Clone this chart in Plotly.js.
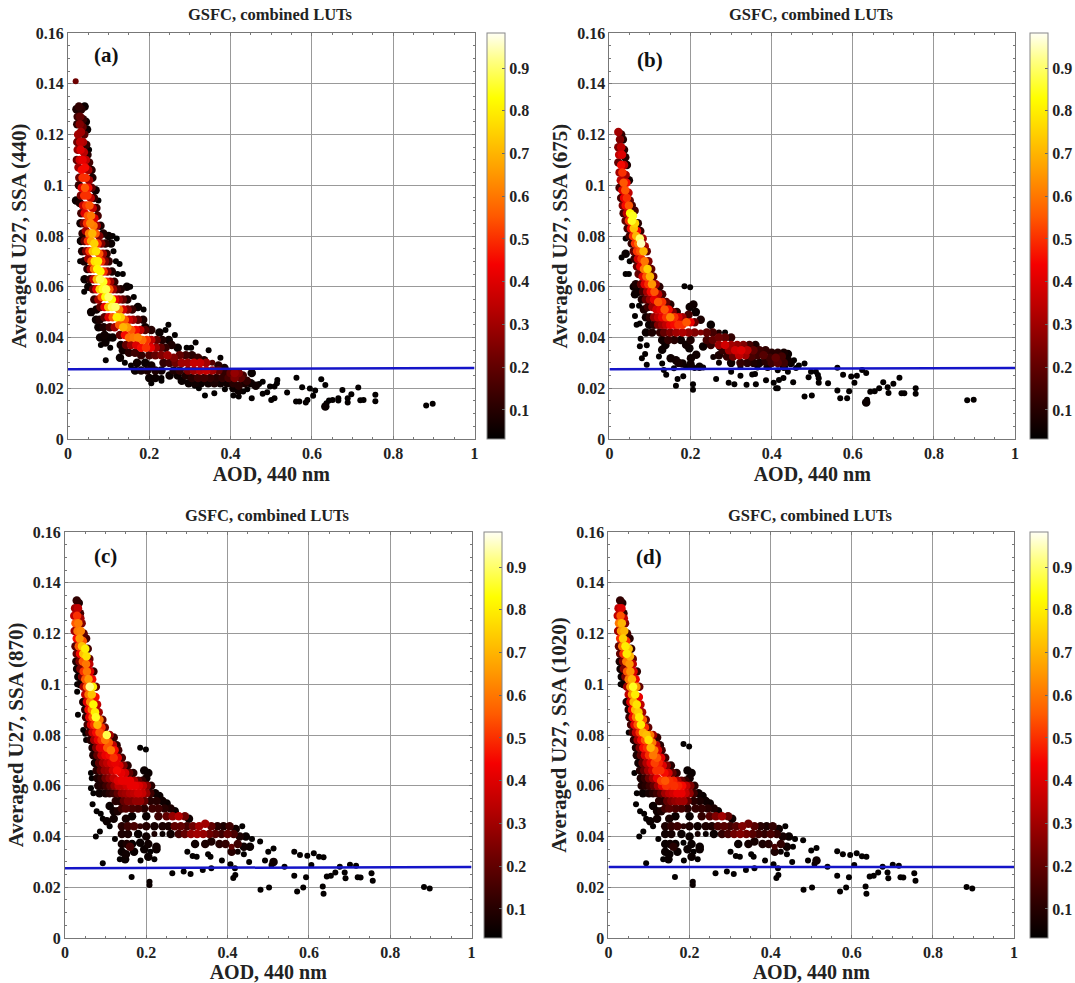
<!DOCTYPE html>
<html><head><meta charset="utf-8">
<script src="https://cdn.plot.ly/plotly-3.0.1.min.js"></script>
<style>html,body{margin:0;padding:0;background:#fff}</style></head>
<body><div id="chart" style="width:1075px;height:983px"></div>
<script>
// rows: AOD 440, averaged U27, density
const pointsA=[[.019,.141,.22],[.021,.13,.08],[.027,.131,.12],[.033,.13,.1],[.041,.131,.05],[.024,.127,.14],[.03,.127,.2],[.037,.126,.12],[.023,.124,.1],[.029,.124,.25],[.036,.123,.2],[.044,.125,.05],[.025,.12,.3],[.032,.121,.3],[.04,.12,.18],[.047,.122,.05],[.023,.117,.22],[.03,.117,.35],[.037,.117,.32],[.045,.116,.12],[.024,.114,.28],[.031,.114,.4],[.039,.113,.34],[.048,.112,.1],[.052,.114,.04],[.022,.11,.2],[.029,.11,.38],[.036,.11,.42],[.044,.11,.35],[.052,.109,.15],[.026,.107,.3],[.034,.106,.45],[.042,.107,.45],[.05,.106,.3],[.058,.106,.1],[.028,.103,.22],[.036,.103,.5],[.044,.103,.5],[.052,.102,.3],[.06,.103,.08],[.027,.1,.12],[.034,.099,.42],[.042,.099,.55],[.05,.099,.45],[.058,.099,.2],[.068,.098,.06],[.032,.096,.25],[.04,.096,.5],[.048,.096,.5],[.056,.095,.35],[.064,.095,.12],[.075,.094,.04],[.02,.094,.05],[.029,.093,.08],[.037,.092,.35],[.045,.092,.5],[.053,.092,.55],[.061,.091,.35],[.07,.091,.14],[.033,.089,.15],[.041,.089,.4],[.049,.088,.55],[.057,.088,.6],[.065,.087,.4],[.073,.088,.15],[.031,.085,.06],[.039,.085,.25],[.047,.085,.5],[.055,.085,.62],[.063,.084,.6],[.071,.084,.3],[.08,.084,.08],[.036,.081,.1],[.044,.082,.3],[.052,.081,.6],[.06,.081,.7],[.068,.081,.55],[.077,.08,.25],[.087,.081,.08],[.1,.08,.05],[.11,.08,.04],[.12,.079,.03],[.032,.078,.05],[.041,.078,.2],[.049,.078,.5],[.057,.078,.68],[.065,.077,.75],[.073,.077,.5],[.082,.077,.25],[.092,.077,.1],[.106,.077,.05],[.035,.074,.08],[.045,.074,.25],[.053,.074,.5],[.061,.074,.72],[.069,.074,.78],[.077,.073,.55],[.086,.073,.3],[.095,.073,.1],[.112,.074,.04],[.03,.07,.04],[.04,.07,.08],[.05,.071,.3],[.058,.07,.55],[.066,.07,.78],[.074,.07,.8],[.082,.07,.5],[.091,.07,.25],[.1,.07,.12],[.118,.07,.04],[.127,.069,.03],[.048,.067,.1],[.056,.067,.3],[.064,.067,.6],[.072,.067,.82],[.08,.066,.82],[.088,.066,.5],[.097,.066,.25],[.108,.066,.08],[.122,.065,.04],[.135,.065,.04],[.055,.063,.12],[.063,.063,.35],[.071,.063,.7],[.079,.063,.88],[.087,.062,.85],[.095,.062,.5],[.104,.062,.3],[.114,.062,.12],[.041,.063,.05],[.04,.058,.04],[.05,.06,.05],[.062,.059,.18],[.07,.059,.4],[.078,.059,.75],[.086,.059,.85],[.094,.059,.88],[.102,.059,.55],[.111,.059,.3],[.12,.059,.15],[.13,.059,.08],[.145,.06,.05],[.153,.06,.04],[.065,.055,.12],[.075,.055,.3],[.083,.056,.55],[.092,.056,.82],[.1,.056,.9],[.108,.055,.82],[.116,.055,.42],[.125,.055,.3],[.135,.055,.2],[.146,.055,.08],[.162,.056,.04],[.057,.05,.05],[.07,.051,.06],[.08,.052,.2],[.09,.052,.42],[.099,.052,.72],[.108,.052,.88],[.117,.052,.9],[.126,.051,.6],[.136,.051,.38],[.147,.051,.25],[.158,.051,.12],[.172,.052,.05],[.186,.051,.04],[.069,.047,.05],[.078,.047,.08],[.09,.048,.18],[.1,.048,.4],[.11,.048,.55],[.12,.048,.8],[.13,.048,.75],[.14,.047,.55],[.15,.047,.38],[.16,.047,.3],[.172,.047,.18],[.185,.047,.08],[.19,.044,.06],[.075,.044,.05],[.088,.044,.08],[.103,.044,.15],[.115,.044,.3],[.126,.045,.55],[.136,.044,.7],[.146,.044,.65],[.156,.043,.55],[.167,.043,.45],[.178,.043,.35],[.19,.043,.18],[.205,.043,.1],[.225,.042,.05],[.079,.04,.05],[.09,.041,.06],[.1,.04,.05],[.11,.04,.05],[.128,.041,.2],[.14,.041,.45],[.15,.04,.58],[.161,.04,.6],[.172,.04,.62],[.183,.039,.58],[.194,.039,.5],[.205,.039,.35],[.218,.039,.2],[.232,.039,.08],[.247,.045,.04],[.24,.043,.04],[.263,.041,.04],[.248,.039,.05],[.081,.037,.04],[.092,.038,.05],[.104,.036,.04],[.13,.037,.06],[.143,.037,.2],[.155,.037,.3],[.168,.037,.4],[.18,.036,.45],[.192,.036,.5],[.204,.036,.42],[.216,.036,.3],[.228,.036,.2],[.24,.036,.12],[.255,.037,.08],[.27,.036,.05],[.292,.036,.04],[.314,.038,.04],[.303,.036,.04],[.346,.035,.04],[.093,.031,.04],[.128,.032,.05],[.135,.035,.06],[.15,.034,.1],[.165,.034,.14],[.18,.033,.12],[.2,.033,.16],[.215,.033,.2],[.23,.033,.25],[.245,.033,.3],[.26,.032,.25],[.275,.033,.2],[.29,.033,.14],[.305,.033,.1],[.32,.032,.12],[.335,.031,.08],[.375,.032,.04],[.14,.03,.04],[.155,.029,.05],[.17,.03,.06],[.19,.03,.05],[.205,.029,.06],[.235,.03,.12],[.25,.03,.14],[.265,.03,.22],[.28,.03,.3],[.295,.03,.3],[.31,.03,.36],[.325,.03,.36],[.34,.03,.3],[.355,.03,.18],[.37,.029,.1],[.385,.028,.07],[.165,.027,.05],[.18,.027,.07],[.195,.027,.08],[.215,.027,.08],[.23,.027,.06],[.26,.027,.08],[.275,.027,.12],[.295,.027,.24],[.31,.027,.3],[.325,.027,.34],[.34,.027,.36],[.355,.027,.3],[.37,.027,.2],[.385,.026,.12],[.4,.026,.2],[.41,.026,.28],[.42,.026,.25],[.43,.025,.15],[.452,.026,.05],[.2,.024,.05],[.215,.024,.05],[.23,.024,.04],[.25,.025,.05],[.27,.025,.05],[.29,.025,.08],[.305,.024,.1],[.32,.024,.14],[.335,.024,.14],[.35,.024,.12],[.365,.024,.1],[.38,.024,.12],[.395,.024,.16],[.41,.024,.25],[.425,.024,.2],[.44,.023,.12],[.205,.022,.04],[.23,.023,.04],[.28,.023,.05],[.297,.022,.05],[.312,.022,.06],[.327,.022,.05],[.345,.022,.06],[.36,.022,.08],[.375,.022,.06],[.392,.022,.06],[.407,.022,.1],[.42,.021,.1],[.435,.022,.08],[.45,.022,.06],[.462,.021,.06],[.322,.02,.04],[.312,.021,.04],[.386,.0196,.04],[.407,.02,.05],[.42,.019,.05],[.36,.018,.04],[.337,.0171,.03],[.407,.0171,.04],[.42,.0167,.04],[.431,.0187,.04],[.441,.0196,.04],[.452,.0161,.04],[.47,.0217,.04],[.479,.0226,.04],[.479,.0178,.04],[.49,.0184,.04],[.497,.0207,.04],[.5,.0154,.04],[.508,.0161,.04],[.508,.0207,.04],[.514,.022,.04],[.515,.0233,.04],[.539,.0183,.04],[.561,.0148,.04],[.562,.0241,.04],[.569,.0148,.04],[.576,.0204,.04],[.585,.0144,.04],[.589,.0154,.04],[.595,.0199,.04],[.603,.017,.04],[.608,.0191,.04],[.623,.0235,.04],[.633,.0213,.04],[.633,.0128,.05],[.636,.0141,.04],[.642,.0152,.04],[.651,.0154,.04],[.665,.0152,.04],[.665,.0161,.04],[.675,.0193,.04],[.688,.0161,.04],[.688,.0144,.04],[.697,.0176,.04],[.714,.0203,.04],[.719,.0153,.04],[.727,.0154,.04],[.756,.0174,.04],[.756,.0149,.04],[.881,.0132,.04],[.897,.0139,.04]];
const pointsB=[[.022,.121,.3],[.029,.12,.12],[.026,.118,.25],[.033,.118,.08],[.022,.115,.25],[.029,.115,.35],[.036,.114,.1],[.024,.112,.35],[.031,.112,.4],[.039,.111,.1],[.022,.109,.2],[.029,.108,.45],[.036,.108,.35],[.043,.108,.08],[.025,.105,.3],[.032,.105,.5],[.04,.104,.3],[.028,.102,.35],[.035,.101,.55],[.042,.101,.45],[.048,.102,.06],[.025,.099,.15],[.032,.098,.4],[.039,.098,.55],[.047,.097,.35],[.029,.095,.15],[.036,.095,.42],[.043,.095,.5],[.05,.094,.2],[.033,.092,.25],[.04,.092,.45],[.048,.092,.55],[.055,.092,.15],[.035,.089,.15],[.043,.089,.35],[.051,.089,.82],[.058,.088,.85],[.062,.09,.15],[.04,.086,.2],[.048,.086,.5],[.055,.086,.85],[.063,.085,.75],[.07,.085,.1],[.045,.083,.15],[.053,.083,.45],[.06,.083,.72],[.068,.082,.45],[.076,.082,.12],[.04,.079,.04],[.05,.08,.15],[.058,.08,.5],[.066,.08,.7],[.075,.079,.9],[.082,.079,.3],[.055,.077,.12],[.063,.077,.5],[.071,.077,.6],[.078,.077,.95],[.087,.076,.3],[.03,.0715,.04],[.04,.073,.05],[.06,.074,.2],[.068,.074,.5],[.076,.074,.55],[.084,.074,.7],[.092,.074,.2],[.05,.07,.04],[.062,.071,.12],[.07,.071,.38],[.079,.071,.5],[.087,.07,.6],[.096,.07,.25],[.068,.068,.2],[.076,.068,.42],[.085,.067,.6],[.094,.067,.75],[.103,.067,.2],[.04,.065,.04],[.048,.065,.04],[.072,.065,.2],[.082,.064,.4],[.091,.064,.55],[.1,.064,.7],[.108,.064,.2],[.06,.06,.05],[.065,.061,.08],[.078,.061,.2],[.087,.061,.4],[.096,.061,.5],[.105,.061,.65],[.114,.061,.3],[.123,.06,.1],[.185,.0602,.04],[.199,.0598,.04],[.063,.057,.05],[.072,.058,.06],[.083,.058,.15],[.093,.058,.3],[.102,.058,.45],[.111,.058,.55],[.12,.057,.35],[.13,.057,.15],[.056,.0525,.04],[.073,.0525,.04],[.08,.055,.08],[.09,.055,.2],[.1,.055,.3],[.11,.055,.42],[.12,.054,.55],[.13,.054,.5],[.14,.054,.2],[.15,.053,.1],[.085,.051,.08],[.095,.052,.14],[.106,.052,.3],[.116,.051,.38],[.126,.051,.42],[.136,.051,.55],[.146,.051,.45],[.156,.05,.25],[.166,.05,.1],[.063,.0485,.04],[.09,.048,.06],[.1,.048,.12],[.11,.048,.28],[.12,.048,.35],[.13,.048,.42],[.14,.048,.5],[.15,.048,.62],[.16,.048,.5],[.17,.048,.4],[.18,.048,.3],[.195,.049,.15],[.207,.053,.06],[.198,.052,.05],[.213,.05,.05],[.067,.045,.04],[.075,.0455,.04],[.098,.045,.05],[.11,.045,.1],[.12,.045,.25],[.13,.045,.3],[.14,.045,.35],[.15,.045,.42],[.16,.045,.45],[.17,.045,.5],[.18,.045,.5],[.19,.046,.55],[.2,.046,.42],[.21,.046,.2],[.225,.047,.08],[.25,.045,.05],[.09,.042,.05],[.105,.042,.08],[.125,.042,.12],[.135,.042,.2],[.15,.042,.25],[.165,.042,.3],[.18,.042,.32],[.195,.042,.28],[.21,.042,.25],[.225,.042,.25],[.24,.042,.2],[.255,.042,.15],[.27,.042,.08],[.285,.042,.04],[.077,.0395,.04],[.13,.039,.06],[.145,.039,.12],[.16,.039,.1],[.176,.039,.06],[.2,.039,.08],[.24,.039,.15],[.255,.039,.2],[.27,.04,.22],[.285,.04,.2],[.3,.04,.12],[.25,.037,.12],[.27,.037,.3],[.285,.037,.38],[.3,.037,.3],[.315,.037,.28],[.33,.037,.25],[.345,.037,.15],[.36,.037,.08],[.075,.0366,.04],[.092,.0369,.04],[.138,.037,.05],[.189,.0371,.06],[.197,.0358,.05],[.231,.0365,.05],[.243,.0385,.06],[.13,.0352,.05],[.122,.0325,.04],[.273,.0365,.06],[.28,.035,.12],[.295,.035,.3],[.31,.035,.38],[.325,.035,.4],[.34,.035,.34],[.355,.035,.2],[.37,.035,.14],[.385,.035,.12],[.4,.034,.1],[.415,.034,.1],[.43,.034,.07],[.44,.0335,.05],[.08,.0318,.04],[.088,.0335,.04],[.151,.0318,.06],[.164,.031,.06],[.201,.0318,.06],[.214,.0332,.06],[.256,.0323,.06],[.27,.033,.08],[.29,.0325,.12],[.305,.0325,.22],[.32,.033,.35],[.335,.033,.3],[.35,.0325,.16],[.365,.033,.14],[.38,.033,.18],[.395,.032,.14],[.41,.032,.2],[.425,.0325,.15],[.44,.031,.06],[.455,.031,.04],[.092,.0293,.04],[.13,.0298,.04],[.18,.0298,.06],[.17,.03,.07],[.2,.0295,.06],[.222,.0285,.05],[.231,.0282,.05],[.27,.03,.05],[.3,.03,.06],[.323,.03,.12],[.34,.03,.1],[.355,.03,.08],[.37,.03,.07],[.385,.0305,.1],[.4,.03,.14],[.415,.03,.18],[.43,.03,.14],[.447,.03,.05],[.467,.029,.04],[.481,.0298,.04],[.134,.0272,.04],[.159,.0279,.04],[.189,.0285,.04],[.21,.028,.04],[.323,.0285,.04],[.365,.0282,.04],[.39,.0285,.06],[.415,.0271,.04],[.43,.0285,.05],[.46,.028,.04],[.14,.0253,.04],[.168,.0236,.04],[.182,.0247,.04],[.164,.021,.04],[.206,.0216,.04],[.206,.0194,.04],[.263,.0236,.04],[.294,.0222,.04],[.3,.0265,.04],[.308,.0216,.04],[.323,.0249,.04],[.338,.0214,.04],[.352,.0254,.04],[.359,.0256,.04],[.361,.0216,.04],[.386,.0232,.04],[.405,.0222,.04],[.411,.02,.04],[.415,.02,.04],[.418,.0233,.04],[.429,.024,.04],[.44,.0265,.04],[.453,.0224,.04],[.481,.0167,.04],[.491,.0243,.04],[.497,.0265,.04],[.499,.0171,.04],[.509,.0265,.04],[.514,.0252,.04],[.516,.0239,.04],[.516,.0222,.04],[.539,.022,.04],[.562,.0281,.04],[.562,.0191,.04],[.569,.0161,.04],[.576,.0253,.04],[.586,.0161,.04],[.591,.0188,.04],[.596,.0246,.04],[.604,.0222,.04],[.61,.0249,.04],[.623,.0272,.04],[.633,.026,.04],[.633,.0144,.05],[.635,.0155,.04],[.643,.0186,.04],[.654,.0188,.04],[.665,.02,.04],[.675,.0224,.04],[.686,.0204,.04],[.688,.0181,.04],[.7,.0218,.04],[.715,.0241,.04],[.72,.018,.04],[.727,.018,.04],[.755,.02,.04],[.755,.0178,.04],[.882,.0153,.04],[.898,.0155,.04]];
const pointsC=[[.029,.133,.12],[.034,.132,.08],[.025,.13,.3],[.032,.13,.35],[.037,.128,.15],[.023,.127,.35],[.03,.127,.5],[.038,.126,.3],[.026,.124,.55],[.033,.124,.6],[.041,.124,.25],[.024,.121,.3],[.031,.121,.6],[.039,.121,.62],[.046,.12,.2],[.029,.118,.45],[.036,.118,.65],[.044,.117,.55],[.052,.118,.15],[.026,.115,.18],[.034,.115,.55],[.042,.115,.72],[.05,.114,.8],[.056,.114,.15],[.029,.112,.2],[.037,.112,.45],[.045,.112,.72],[.053,.111,.78],[.06,.11,.2],[.028,.109,.08],[.036,.109,.25],[.044,.109,.55],[.052,.108,.6],[.06,.108,.35],[.03,.106,.06],[.038,.106,.25],[.046,.105,.5],[.054,.105,.6],[.062,.105,.4],[.07,.105,.12],[.033,.103,.05],[.042,.103,.25],[.05,.102,.55],[.058,.102,.65],[.067,.102,.45],[.03,.1,.04],[.038,.1,.06],[.046,.099,.3],[.054,.099,.55],[.061,.099,.92],[.069,.099,.8],[.076,.099,.2],[.05,.096,.35],[.058,.096,.6],[.066,.096,.72],[.075,.095,.45],[.03,.097,.04],[.045,.093,.08],[.054,.093,.4],[.062,.093,.62],[.07,.092,.82],[.079,.092,.35],[.05,.09,.1],[.058,.09,.45],[.066,.09,.6],[.074,.089,.8],[.083,.089,.3],[.032,.088,.04],[.052,.087,.12],[.06,.087,.42],[.068,.087,.55],[.076,.087,.85],[.085,.086,.6],[.092,.086,.2],[.056,.084,.15],[.064,.084,.4],[.072,.084,.5],[.08,.084,.7],[.09,.083,.5],[.098,.083,.2],[.045,.082,.04],[.05,.0805,.04],[.06,.081,.15],[.068,.081,.35],[.077,.081,.45],[.085,.081,.55],[.094,.08,.55],[.103,.08,.88],[.11,.08,.3],[.12,.079,.12],[.052,.078,.04],[.063,.078,.1],[.072,.078,.3],[.081,.078,.42],[.09,.078,.5],[.099,.078,.6],[.108,.077,.55],[.118,.076,.35],[.127,.076,.1],[.199,.0743,.04],[.185,.075,.04],[.068,.075,.08],[.077,.075,.25],[.086,.075,.4],[.095,.075,.42],[.104,.075,.55],[.113,.074,.6],[.122,.074,.45],[.131,.074,.15],[.07,.072,.08],[.08,.072,.2],[.09,.072,.35],[.1,.072,.42],[.11,.072,.45],[.12,.071,.5],[.13,.071,.42],[.14,.071,.15],[.074,.069,.06],[.084,.069,.2],[.094,.069,.3],[.104,.069,.35],[.114,.069,.4],[.124,.069,.42],[.134,.068,.4],[.144,.068,.25],[.154,.068,.1],[.064,.065,.04],[.078,.066,.1],[.088,.066,.2],[.098,.066,.28],[.108,.066,.3],[.118,.066,.38],[.128,.066,.45],[.138,.065,.42],[.148,.065,.38],[.158,.065,.2],[.168,.065,.1],[.195,.066,.05],[.205,.065,.05],[.2,.063,.06],[.066,.063,.04],[.08,.063,.08],[.09,.063,.12],[.1,.063,.22],[.11,.063,.28],[.12,.063,.35],[.13,.062,.4],[.14,.062,.42],[.15,.062,.42],[.16,.062,.42],[.17,.062,.32],[.18,.062,.2],[.19,.062,.12],[.082,.06,.08],[.092,.06,.1],[.102,.06,.14],[.112,.06,.2],[.122,.06,.28],[.132,.06,.35],[.142,.06,.35],[.152,.06,.38],[.162,.06,.42],[.172,.06,.42],[.182,.06,.4],[.192,.06,.35],[.202,.06,.25],[.212,.06,.1],[.064,.059,.04],[.07,.057,.04],[.085,.057,.05],[.1,.057,.07],[.11,.057,.1],[.12,.057,.14],[.13,.057,.2],[.14,.057,.28],[.15,.057,.3],[.16,.057,.33],[.17,.057,.35],[.18,.057,.38],[.19,.057,.36],[.2,.057,.28],[.21,.057,.14],[.222,.057,.06],[.232,.056,.05],[.125,.054,.1],[.135,.054,.1],[.145,.054,.2],[.155,.054,.25],[.165,.054,.25],[.175,.054,.28],[.185,.054,.28],[.195,.054,.2],[.21,.054,.1],[.225,.054,.1],[.24,.054,.06],[.25,.053,.05],[.068,.0527,.04],[.078,.05,.04],[.088,.049,.04],[.11,.052,.05],[.12,.05,.06],[.13,.05,.08],[.14,.051,.14],[.15,.051,.18],[.165,.051,.16],[.18,.051,.15],[.195,.051,.1],[.215,.051,.14],[.23,.051,.14],[.245,.051,.1],[.26,.051,.08],[.27,.05,.05],[.093,.047,.04],[.103,.046,.05],[.12,.047,.06],[.15,.047,.07],[.165,.048,.05],[.2,.048,.05],[.23,.048,.14],[.25,.048,.2],[.265,.048,.28],[.28,.048,.33],[.295,.048,.22],[.305,.047,.06],[.11,.044,.04],[.14,.044,.1],[.155,.044,.14],[.17,.044,.16],[.185,.044,.12],[.2,.044,.1],[.22,.044,.07],[.24,.044,.08],[.255,.044,.08],[.27,.044,.2],[.285,.044,.2],[.3,.044,.15],[.315,.044,.22],[.33,.044,.3],[.345,.045,.3],[.36,.044,.2],[.375,.044,.1],[.39,.044,.08],[.405,.044,.14],[.42,.043,.06],[.436,.044,.04],[.076,.04,.04],[.086,.042,.04],[.123,.039,.04],[.14,.041,.08],[.155,.041,.08],[.18,.041,.05],[.2,.04,.06],[.22,.041,.08],[.24,.041,.05],[.26,.041,.06],[.28,.041,.15],[.295,.041,.2],[.31,.041,.28],[.325,.041,.3],[.34,.041,.28],[.355,.041,.22],[.37,.041,.18],[.385,.041,.14],[.4,.041,.2],[.415,.041,.16],[.43,.04,.08],[.445,.04,.05],[.46,.039,.04],[.48,.038,.04],[.14,.037,.06],[.152,.037,.08],[.165,.037,.05],[.185,.0375,.05],[.205,.037,.06],[.225,.036,.06],[.32,.037,.06],[.345,.037,.08],[.36,.038,.08],[.38,.037,.1],[.395,.037,.12],[.41,.036,.2],[.425,.037,.14],[.44,.036,.06],[.455,.036,.05],[.14,.034,.05],[.15,.033,.06],[.16,.036,.15],[.17,.034,.05],[.195,.035,.05],[.21,.034,.04],[.225,.035,.05],[.301,.034,.04],[.314,.0323,.04],[.324,.032,.04],[.352,.033,.04],[.358,.032,.04],[.41,.034,.1],[.425,.034,.06],[.44,.033,.04],[.135,.031,.04],[.148,.031,.05],[.186,.0305,.04],[.205,.032,.05],[.22,.031,.04],[.386,.0305,.04],[.407,.0291,.04],[.453,.03,.04],[.093,.0295,.04],[.164,.024,.04],[.208,.0222,.05],[.208,.0209,.05],[.264,.0255,.04],[.292,.0262,.04],[.309,.0252,.04],[.339,.0268,.04],[.36,.0275,.04],[.414,.0236,.04],[.418,.0275,.04],[.419,.0248,.04],[.481,.019,.04],[.492,.0305,.04],[.5,.034,.04],[.502,.0199,.04],[.508,.0288,.05],[.513,.03,.06],[.513,.0353,.04],[.54,.0281,.04],[.564,.034,.04],[.564,.0245,.04],[.571,.0183,.04],[.578,.0327,.04],[.586,.0199,.04],[.593,.0239,.04],[.596,.0324,.04],[.606,.0288,.04],[.612,.0334,.04],[.625,.032,.04],[.634,.0203,.04],[.636,.0318,.04],[.636,.0174,.04],[.644,.0242,.04],[.654,.0245,.04],[.665,.0258,.04],[.676,.0281,.04],[.688,.0258,.04],[.69,.0235,.04],[.701,.0289,.04],[.716,.0285,.04],[.72,.0239,.04],[.727,.0238,.04],[.754,.0255,.04],[.757,.0226,.04],[.883,.0201,.04],[.897,.0195,.04]];
const pointsD=[[.029,.133,.12],[.034,.132,.08],[.025,.13,.35],[.032,.13,.4],[.037,.128,.12],[.023,.127,.35],[.03,.127,.55],[.038,.126,.35],[.026,.124,.6],[.033,.124,.7],[.041,.124,.25],[.024,.121,.3],[.031,.121,.65],[.039,.121,.7],[.046,.12,.15],[.029,.118,.5],[.036,.118,.75],[.044,.117,.5],[.052,.118,.1],[.026,.115,.2],[.034,.115,.6],[.042,.115,.8],[.05,.114,.72],[.056,.114,.12],[.029,.112,.2],[.037,.112,.5],[.045,.112,.8],[.053,.111,.7],[.06,.11,.2],[.028,.109,.08],[.036,.109,.25],[.044,.109,.6],[.052,.108,.65],[.06,.108,.35],[.03,.106,.06],[.038,.106,.25],[.046,.105,.55],[.054,.105,.65],[.062,.105,.4],[.07,.105,.12],[.033,.103,.05],[.042,.103,.25],[.05,.102,.6],[.058,.102,.7],[.067,.102,.42],[.03,.1,.04],[.038,.1,.06],[.046,.099,.3],[.054,.099,.65],[.061,.099,.85],[.069,.099,.65],[.076,.099,.2],[.05,.096,.35],[.058,.096,.65],[.066,.096,.8],[.075,.095,.42],[.045,.093,.08],[.054,.093,.4],[.062,.093,.7],[.07,.092,.78],[.079,.092,.35],[.05,.09,.1],[.058,.09,.45],[.066,.09,.7],[.074,.089,.75],[.083,.089,.3],[.052,.087,.12],[.06,.087,.42],[.068,.087,.6],[.076,.087,.8],[.085,.086,.55],[.092,.086,.2],[.056,.084,.15],[.064,.084,.4],[.072,.084,.55],[.08,.084,.8],[.09,.083,.5],[.098,.083,.2],[.05,.081,.04],[.06,.081,.15],[.068,.081,.35],[.077,.081,.5],[.085,.081,.7],[.094,.08,.72],[.103,.08,.6],[.11,.08,.3],[.12,.079,.12],[.063,.078,.1],[.072,.078,.3],[.081,.078,.45],[.09,.078,.55],[.099,.078,.78],[.108,.077,.6],[.118,.076,.35],[.127,.076,.1],[.199,.0755,.04],[.185,.0765,.04],[.068,.075,.08],[.077,.075,.25],[.086,.075,.45],[.095,.075,.5],[.104,.075,.7],[.113,.074,.6],[.122,.074,.4],[.131,.074,.15],[.07,.072,.08],[.08,.072,.2],[.09,.072,.38],[.1,.072,.5],[.11,.072,.6],[.12,.071,.55],[.13,.071,.42],[.14,.071,.15],[.074,.069,.06],[.084,.069,.2],[.094,.069,.32],[.104,.069,.42],[.114,.069,.52],[.124,.069,.48],[.134,.068,.4],[.144,.068,.25],[.154,.068,.1],[.064,.065,.04],[.078,.066,.1],[.088,.066,.2],[.098,.066,.3],[.108,.066,.38],[.118,.066,.5],[.128,.066,.5],[.138,.065,.45],[.148,.065,.38],[.158,.065,.2],[.168,.065,.1],[.195,.066,.05],[.205,.065,.05],[.2,.063,.06],[.08,.063,.08],[.09,.063,.12],[.1,.063,.22],[.11,.063,.3],[.12,.063,.42],[.13,.062,.52],[.14,.062,.55],[.15,.062,.5],[.16,.062,.48],[.17,.062,.32],[.18,.062,.2],[.19,.062,.12],[.082,.06,.08],[.092,.06,.1],[.102,.06,.14],[.112,.06,.2],[.122,.06,.3],[.132,.06,.42],[.142,.06,.5],[.152,.06,.48],[.162,.06,.5],[.172,.06,.48],[.182,.06,.45],[.192,.06,.35],[.202,.06,.25],[.212,.06,.1],[.07,.057,.04],[.085,.057,.05],[.1,.057,.07],[.11,.057,.1],[.12,.057,.14],[.13,.057,.2],[.14,.057,.3],[.15,.057,.35],[.16,.057,.38],[.17,.057,.42],[.18,.057,.42],[.19,.057,.36],[.2,.057,.28],[.21,.057,.14],[.222,.057,.06],[.232,.056,.05],[.125,.054,.1],[.135,.054,.1],[.145,.054,.2],[.155,.054,.25],[.165,.054,.28],[.175,.054,.3],[.185,.054,.3],[.195,.054,.2],[.21,.054,.1],[.225,.054,.08],[.24,.054,.06],[.25,.053,.05],[.068,.0527,.04],[.078,.05,.04],[.088,.049,.04],[.11,.052,.05],[.12,.05,.06],[.13,.05,.08],[.14,.051,.14],[.15,.051,.18],[.165,.051,.16],[.18,.051,.15],[.195,.051,.1],[.215,.051,.12],[.23,.051,.12],[.245,.051,.1],[.26,.051,.08],[.27,.05,.05],[.093,.047,.04],[.103,.046,.05],[.12,.047,.06],[.15,.047,.07],[.165,.048,.05],[.2,.048,.05],[.23,.048,.12],[.25,.048,.18],[.265,.048,.25],[.28,.048,.3],[.295,.048,.2],[.305,.047,.06],[.11,.044,.04],[.14,.044,.08],[.155,.044,.12],[.17,.044,.14],[.185,.044,.1],[.2,.044,.08],[.22,.044,.06],[.24,.044,.08],[.255,.044,.08],[.27,.044,.16],[.285,.044,.18],[.3,.044,.15],[.315,.044,.18],[.33,.044,.25],[.345,.045,.22],[.36,.044,.18],[.375,.044,.1],[.39,.044,.08],[.405,.044,.12],[.42,.043,.06],[.436,.044,.04],[.076,.04,.04],[.086,.042,.04],[.123,.039,.04],[.14,.041,.06],[.155,.041,.07],[.18,.041,.05],[.2,.04,.05],[.22,.041,.07],[.24,.041,.05],[.26,.041,.05],[.28,.041,.12],[.295,.041,.16],[.31,.041,.22],[.325,.041,.25],[.34,.041,.22],[.355,.041,.18],[.37,.041,.14],[.385,.041,.12],[.4,.041,.16],[.415,.041,.12],[.43,.04,.07],[.445,.04,.05],[.46,.039,.04],[.48,.0385,.04],[.14,.037,.05],[.152,.037,.06],[.165,.037,.05],[.185,.0375,.04],[.205,.037,.05],[.225,.036,.05],[.32,.037,.05],[.345,.037,.07],[.36,.038,.07],[.38,.037,.08],[.395,.037,.1],[.41,.036,.16],[.425,.037,.12],[.44,.036,.06],[.455,.036,.04],[.14,.034,.05],[.15,.033,.05],[.16,.036,.1],[.17,.034,.05],[.195,.035,.05],[.21,.034,.04],[.225,.035,.05],[.301,.034,.04],[.314,.0323,.04],[.324,.032,.04],[.352,.033,.04],[.358,.032,.04],[.41,.034,.08],[.425,.034,.05],[.44,.033,.04],[.135,.031,.04],[.148,.031,.05],[.186,.0305,.04],[.205,.032,.05],[.22,.031,.04],[.386,.0305,.04],[.407,.0291,.04],[.453,.03,.04],[.093,.0295,.04],[.164,.024,.04],[.208,.0222,.05],[.208,.0209,.05],[.264,.0255,.04],[.292,.0262,.04],[.309,.0252,.04],[.339,.0268,.04],[.36,.0275,.04],[.414,.0236,.04],[.418,.0275,.04],[.419,.0248,.04],[.481,.019,.04],[.492,.0305,.04],[.5,.0345,.04],[.502,.0199,.04],[.508,.0292,.05],[.513,.0305,.06],[.513,.0355,.04],[.54,.0281,.04],[.564,.0342,.04],[.564,.0245,.04],[.571,.0183,.04],[.578,.033,.04],[.586,.0199,.04],[.593,.0239,.04],[.596,.0327,.04],[.606,.0288,.04],[.612,.0334,.04],[.625,.0322,.04],[.634,.0203,.04],[.636,.032,.04],[.636,.0174,.04],[.644,.0242,.04],[.654,.0245,.04],[.665,.0258,.04],[.676,.0281,.04],[.688,.0258,.04],[.69,.0235,.04],[.701,.0289,.04],[.716,.0285,.04],[.72,.0239,.04],[.727,.0238,.04],[.754,.0255,.04],[.757,.0226,.04],[.883,.0201,.04],[.897,.0195,.04]];
const lineX=[0,1];
const lineA=[.0275,.028],lineB=[.0275,.028],lineC=[.0275,.028],lineD=[.028,.028];
const yTitles=['Averaged U27, SSA (440)','Averaged U27, SSA (675)','Averaged U27, SSA (870)','Averaged U27, SSA (1020)'];
const panelLabels=['(a)','(b)','(c)','(d)'];
const chartTitle='GSFC, combined LUTs';
const xTickVals=[0,.2,.4,.6,.8,1], xTickText=['0','0.2','0.4','0.6','0.8','1'];
const yTickVals=[0,.02,.04,.06,.08,.1,.12,.14,.16], yTickText=['0','0.02','0.04','0.06','0.08','0.1','0.12','0.14','0.16'];
const barVals=[.1,.2,.3,.4,.5,.6,.7,.8,.9];
const hot=[[0,'#000000'],[.08,'#2a0000'],[.2,'#6e0000'],[.32,'#b80000'],[.43,'#f50000'],[.55,'#ff5a00'],[.66,'#ff9c00'],[.78,'#ffdf00'],[.84,'#ffff00'],[.93,'#ffff80'],[1,'#fffff4']];

const W=1075,H=983,serif='"Liberation Serif","Times New Roman",serif';
const geo=[
 {l:68,r:475,t:33,b:439,bar:487,tx:271,ty:15,lx:107,ly:55},
 {l:610,r:1016,t:33,b:439,bar:1030,tx:812,ty:15,lx:651,ly:60},
 {l:65,r:472,t:532,b:938,bar:484,tx:268,ty:515,lx:106,ly:556},
 {l:609,r:1015,t:532,b:938,bar:1030,tx:811,ty:515,lx:650,ly:557}];
const sets=[pointsA,pointsB,pointsC,pointsD], lines=[lineA,lineB,lineC,lineD];
// markers in the crowded band are drawn larger so they merge, as they do in the reference
const markerSize=(p,all)=>{
  if(p[2]<.05) return 6;
  const near=all.filter(q=>q!==p&&Math.abs(q[0]-p[0])<.014&&Math.abs(q[1]-p[1])<.005).length;
  return near>=2?8.5:6;
};
const traces=[],layout={width:W,height:H,margin:{l:0,r:0,t:0,b:0},paper_bgcolor:'#fff',plot_bgcolor:'#fff',showlegend:false,annotations:[]};
geo.forEach((g,i)=>{
  const s=i?String(i+1):'';
  const pts=[...sets[i]].sort((a,b)=>a[2]-b[2]);
  const tf={family:serif,size:16,color:'#222',weight:'bold'};
  const ax={range:[0,1],tickmode:'array',showline:true,linecolor:'#777',linewidth:1,mirror:'ticks',ticks:'inside',ticklen:3,tickcolor:'#777',gridcolor:'#999',gridwidth:1,zeroline:false,tickfont:tf,automargin:false};
  layout['xaxis'+s]=Object.assign({},ax,{domain:[g.l/W,g.r/W],anchor:'y'+s,tickvals:xTickVals,ticktext:xTickText,
    minor:{dtick:.05,ticks:'inside',ticklen:2,tickcolor:'#777',showgrid:false},
    title:{text:'<b>AOD, 440 nm</b>',font:{family:serif,size:20,color:'#222'},standoff:5}});
  layout['yaxis'+s]=Object.assign({},ax,{range:[0,.16],domain:[1-g.b/H,1-g.t/H],anchor:'x'+s,tickvals:yTickVals,ticktext:yTickText,
    minor:{dtick:.005,ticks:'inside',ticklen:2,tickcolor:'#777',showgrid:false},
    title:{text:'<b>'+yTitles[i]+'</b>',font:{family:serif,size:21,color:'#222'},standoff:3}});
  traces.push({type:'scatter',mode:'markers',xaxis:'x'+s,yaxis:'y'+s,x:pts.map(p=>p[0]),y:pts.map(p=>p[1]),
    hoverinfo:'skip',marker:{opacity:1,size:pts.map(p=>markerSize(p,pts)),color:pts.map(p=>p[2]),cmin:.032,cmax:.982,colorscale:hot,line:{width:0},
      colorbar:{x:g.bar/W,xanchor:'left',xref:'paper',y:1-g.b/H,yanchor:'bottom',yref:'paper',len:(g.b-g.t)/H,lenmode:'fraction',thickness:18,thicknessmode:'pixels',outlinewidth:1,outlinecolor:'#888',tickmode:'array',tickvals:barVals,ticktext:barVals.map(String),ticks:'inside',ticklen:3,tickcolor:'#666',tickfont:{family:serif,size:16,color:'#222',weight:'bold'},ypad:0,xpad:0}}});
  traces.push({type:'scatter',mode:'lines',xaxis:'x'+s,yaxis:'y'+s,x:lineX,y:lines[i],line:{color:'#1414c8',width:2.5},hoverinfo:'skip'});
  layout.annotations.push({xref:'paper',yref:'paper',x:g.tx/W,y:1-g.ty/H,text:'<b>'+chartTitle+'</b>',showarrow:false,font:{family:serif,size:16.5,color:'#222'},xanchor:'center',yanchor:'middle'});
  layout.annotations.push({xref:'paper',yref:'paper',x:g.lx/W,y:1-g.ly/H,text:'<b>'+panelLabels[i]+'</b>',showarrow:false,font:{family:serif,size:21,color:'#111'},xanchor:'center',yanchor:'middle'});
});
Plotly.newPlot('chart',traces,layout,{displayModeBar:false,staticPlot:true});
</script></body></html>
